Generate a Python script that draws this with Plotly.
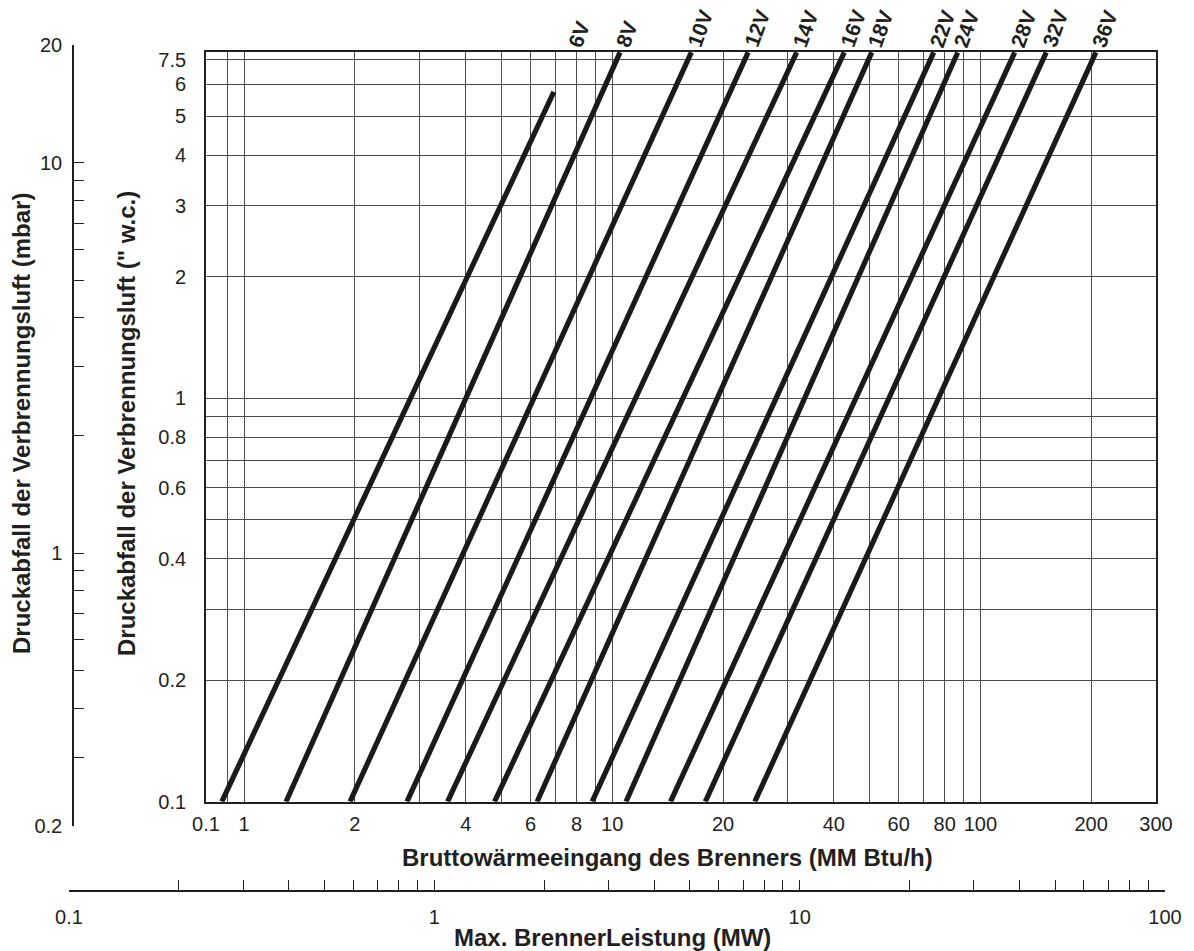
import numpy as np
import plotly.graph_objects as go

W, H = 1194, 951
OFF = 8  # the page body places the figure 8 px from the top-left corner

# ---------------- data ----------------
line_labels = ["6V", "8V", "10V", "12V", "14V", "16V", "18V", "22V", "24V", "28V", "32V", "36V"]
# heat input (MM Btu/h) at the lower end of each line
x_bottom = [0.87, 1.30, 1.94, 2.77, 3.57, 4.79, 6.25, 8.82, 10.9, 14.4, 17.9, 24.4]
# pressure drop (" w.c.) at the lower end
y_bottom = [0.1, 0.1, 0.1, 0.1, 0.1, 0.1, 0.1, 0.1, 0.1, 0.1, 0.1, 0.1]
# heat input (MM Btu/h) at the upper end of each line
x_top = [6.94, 10.5, 16.4, 23.4, 31.7, 42.7, 50.7, 74.7, 86.8, 124, 151, 206]
# pressure drop (" w.c.) at the upper end
y_top = [5.75, 7.2, 7.2, 7.2, 7.2, 7.2, 7.2, 7.2, 7.2, 7.2, 7.2, 7.2]

# main x axis (MM Btu/h)
x_min, x_max = 0.788, 300
x_tick_vals = [0.788, 1, 2, 4, 6, 8, 10, 20, 40, 60, 80, 100, 200, 300]
x_tick_text = ["0.1", "1", "2", "4", "6", "8", "10", "20", "40", "60", "80", "100", "200", "300"]
x_grid_minor = [0.9, 3, 5, 7, 9, 30, 50, 70, 90]

# main y axis (" w.c.)
y_min, y_max = 0.1, 7.23
y_tick_vals = [0.1, 0.2, 0.4, 0.6, 0.8, 1, 2, 3, 4, 5, 6, 6.9]
y_tick_text = ["0.1", "0.2", "0.4", "0.6", "0.8", "1", "2", "3", "4", "5", "6", "7.5"]
y_grid_minor = [0.3, 0.5, 0.7, 0.9]

# secondary y axis (mbar)
mbar_min, mbar_max = 0.2, 20
mbar_tick_vals = [0.2, 0.3, 0.4, 0.5, 0.6, 0.7, 0.8, 0.9, 1, 2, 3, 4, 5, 6, 7, 8, 9, 10, 20]
mbar_tick_text = ["0.2", "", "", "", "", "", "", "", "1", "", "", "", "", "", "", "", "", "10", "20"]

# secondary x axis (MW)
mw_min, mw_max = 0.1, 100
mw_tick_vals = [0.1, 0.2, 0.3, 0.4, 0.5, 0.6, 0.7, 0.8, 0.9, 1, 2, 3, 4, 5, 6, 7, 8, 9, 10,
                20, 30, 40, 50, 60, 70, 80, 90, 100]
mw_tick_text = ["0.1", "", "", "", "", "", "", "", "", "1", "", "", "", "", "", "", "", "", "10",
                "", "", "", "", "", "", "", "", "100"]

# ---------------- layout geometry (page pixels -> paper fractions) ----------------
def px_x(p):
    return (p - OFF) / W

def px_y(p):
    return 1 - (p - OFF) / H

FONT = "Liberation Sans, Arial, Helvetica, sans-serif"
INK = "#231f20"

fig = go.Figure()

# invisible trace so that the two scale-conversion axes (MW / mbar) get drawn
fig.add_trace(go.Scatter(
    x=[mw_min, mw_max], y=[mbar_min, mbar_max], xaxis="x2", yaxis="y2",
    mode="markers", marker=dict(opacity=0), showlegend=False, hoverinfo="skip",
))

for lab, xb, yb, xt, yt in zip(line_labels, x_bottom, y_bottom, x_top, y_top):
    fig.add_trace(go.Scatter(
        x=[xb, xt], y=[yb, yt], mode="lines", name=lab,
        line=dict(color="#1a1a1a", width=5.2), showlegend=False, hoverinfo="skip",
    ))

# labels at the top edge, on the extension of each line
for lab, xb, yb, xt, yt in zip(line_labels, x_bottom, y_bottom, x_top, y_top):
    expo = np.log10(xt / xb) / np.log10(yt / yb)
    x_lab = xt * (y_max / yt) ** expo
    fig.add_annotation(
        x=np.log10(x_lab), xref="x", y=px_y(51.7), yref="paper",
        text=f"<b>{lab}</b>", showarrow=False, textangle=-70,
        xanchor="left", yanchor="bottom", xshift=-11, yshift=-1,
        font=dict(family=FONT, size=21, color=INK),
    )

common_free = dict(showgrid=False, showline=True, linecolor=INK, linewidth=1.5,
                   zeroline=False, tickfont=dict(size=20), ticks="inside",
                   ticklen=10, tickwidth=1.3, tickcolor=INK, automargin=False,
                   fixedrange=True)

fig.update_layout(
    width=W, height=H,
    margin=dict(l=0, r=0, t=0, b=0, pad=0, autoexpand=False),
    paper_bgcolor="white", plot_bgcolor="rgba(0,0,0,0)",
    font=dict(family=FONT, size=20, color=INK),
    showlegend=False,
    xaxis=dict(
        type="log", range=[np.log10(x_min), np.log10(x_max)],
        domain=[px_x(206), px_x(1156)], anchor="y",
        tickmode="array", tickvals=x_tick_vals, ticktext=x_tick_text,
        ticks="", showgrid=True, gridcolor="#4d4d4d", gridwidth=1.4,
        minor=dict(tickmode="array", tickvals=x_grid_minor, showgrid=True,
                   gridcolor="#4d4d4d", gridwidth=1.4, ticks=""),
        showline=True, linecolor=INK, linewidth=1.8, mirror=True,
        zeroline=False, tickfont=dict(size=20), ticklabelstandoff=3,
        automargin=False,
    ),
    yaxis=dict(
        type="log", range=[np.log10(y_min), np.log10(y_max)],
        domain=[px_y(801.7), px_y(51.7)], anchor="x",
        tickmode="array", tickvals=y_tick_vals, ticktext=y_tick_text,
        ticks="", showgrid=True, gridcolor="#4d4d4d", gridwidth=1.4,
        minor=dict(tickmode="array", tickvals=y_grid_minor, showgrid=True,
                   gridcolor="#4d4d4d", gridwidth=1.4, ticks=""),
        showline=True, linecolor=INK, linewidth=1.8, mirror=True,
        zeroline=False, tickfont=dict(size=20), ticklabelstandoff=14,
        automargin=False,
    ),
    xaxis2=dict(
        type="log", range=[np.log10(mw_min), np.log10(mw_max)],
        domain=[px_x(69), px_x(1165)], anchor="free", position=px_y(891),
        side="bottom", tickmode="array", tickvals=mw_tick_vals, ticktext=mw_tick_text,
        ticklabelstandoff=8, **common_free,
    ),
    yaxis2=dict(
        type="log", range=[np.log10(mbar_min), np.log10(mbar_max)],
        domain=[px_y(826), px_y(45)], anchor="free", position=px_x(73),
        side="left", tickmode="array", tickvals=mbar_tick_vals, ticktext=mbar_tick_text,
        ticklabelstandoff=6, **common_free,
    ),
)

# axis titles
fig.add_annotation(
    x=px_x(668), y=px_y(857), xref="paper", yref="paper",
    text="<b>Bruttowärmeeingang des Brenners (MM Btu/h)</b>", showarrow=False,
    xanchor="center", yanchor="middle", font=dict(family=FONT, size=24, color=INK),
)
fig.add_annotation(
    x=px_x(612), y=px_y(937), xref="paper", yref="paper",
    text="<b>Max. BrennerLeistung (MW)</b>", showarrow=False,
    xanchor="center", yanchor="middle", font=dict(family=FONT, size=24, color=INK),
)
fig.add_annotation(
    x=px_x(22), y=px_y(424), xref="paper", yref="paper",
    text="<b>Druckabfall der Verbrennungsluft (mbar)</b>", showarrow=False,
    textangle=-90, xanchor="center", yanchor="middle",
    font=dict(family=FONT, size=24, color=INK),
)
fig.add_annotation(
    x=px_x(127), y=px_y(424), xref="paper", yref="paper",
    text="<b>Druckabfall der Verbrennungsluft (\" w.c.)</b>", showarrow=False,
    textangle=-90, xanchor="center", yanchor="middle",
    font=dict(family=FONT, size=24, color=INK),
)

fig.write_html("out.html", config=dict(displayModeBar=False))
